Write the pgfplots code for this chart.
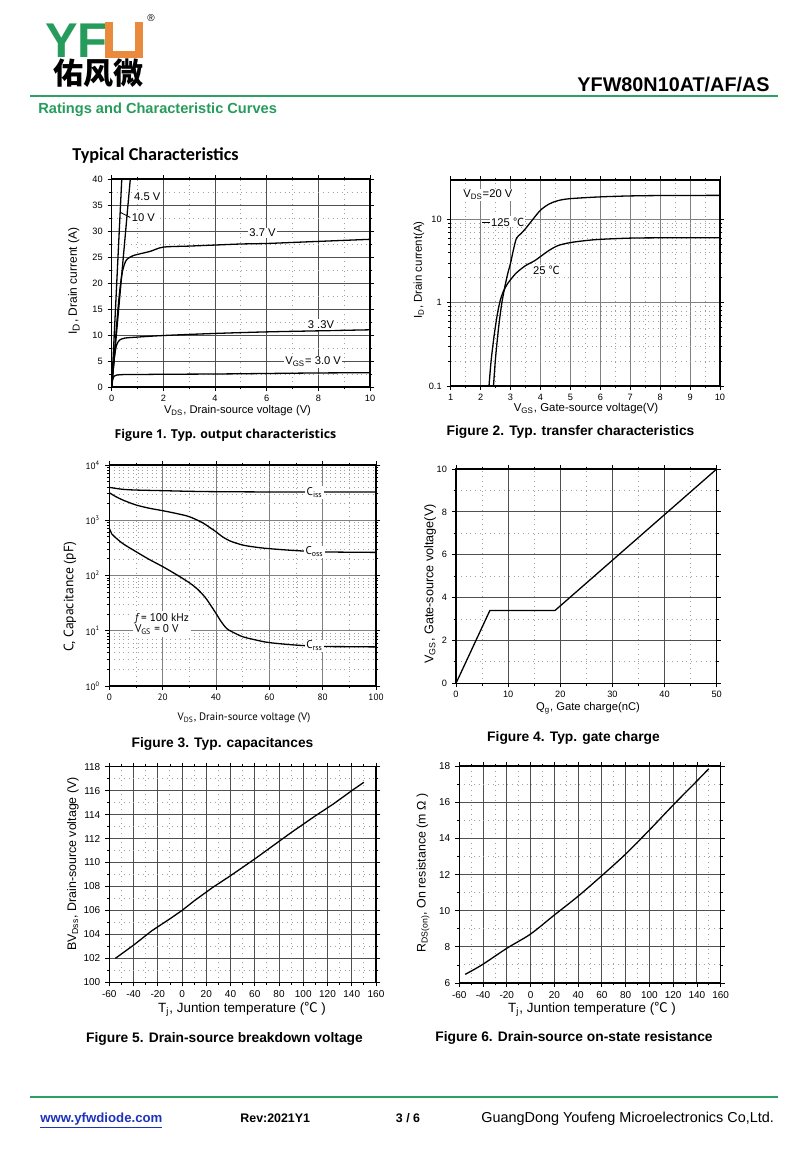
\documentclass[border=0pt]{standalone}
\usepackage{fontspec}
\setmainfont{Liberation Sans}
\newfontfamily\cjk{Noto Sans CJK SC}
\newfontfamily\carlito{Carlito}
\newfontfamily\opensans{Open Sans}
\newfontfamily\ptsans{PT Sans}
\usepackage{pgfplots}
\pgfplotsset{compat=1.18}

\definecolor{ygreen}{RGB}{38,156,92}
\definecolor{lgreen}{RGB}{46,160,100}
\definecolor{yorange}{RGB}{233,138,60}
\definecolor{ylink}{RGB}{30,50,190}
\definecolor{gdark}{RGB}{80,80,80}
\definecolor{glite}{RGB}{160,160,160}

\newcommand{\fs}[1]{\fontsize{#1}{#1}\selectfont}

\pgfplotsset{
  sheet/.style={
    scale only axis, anchor=south west, grid=both,
    axis line style={black, line width=0.7pt},
    major grid style={gdark, line width=0.5pt},
    minor grid style={glite, dotted, line width=0.45pt},
    tick align=outside, tick style={black, line width=0.4pt},
    major tick length=2pt, minor tick length=1.2pt,
    tick label style={font=\fs{4.6}},
    xticklabel style={yshift=1.5pt},
    yticklabel style={xshift=1pt},
    /pgf/number format/assume math mode=true,
    cycle list={{black, line width=0.65pt}},
    every axis plot/.append style={black, line width=0.65pt, no marks},
  },
}
\tikzset{lbl/.style={font=\fs{5.6}, fill=white, inner sep=0.6pt}}

\begin{document}
\begin{tikzpicture}
\path[use as bounding box, fill=white] (0,0) rectangle (400pt,-580pt);

% ---- Figure 1: output characteristics
\begin{axis}[sheet, at={(55.85pt,-193.5pt)}, width=129.15pt, height=104pt,
  xmin=0, xmax=10, ymin=0, ymax=40,
  xtick={0,2,...,10}, ytick={0,5,...,40}, minor x tick num=1, minor y tick num=1]
\addplot[black] coordinates {(0,0) (0.39,40)};
\addplot[black] coordinates {(0,0) (0.72,40)};
\addplot[black, smooth] coordinates {(0,0) (0.1,6) (0.2,12.5) (0.3,18) (0.4,21.8) (0.5,23.7)
  (0.6,24.6) (0.8,25.2) (1,25.5) (1.5,26.1) (2,26.9) (3,27.1) (4,27.3) (5,27.5)
  (6,27.6) (7,27.8) (8,28) (9,28.2) (10,28.4)};
\addplot[black, smooth] coordinates {(0,0) (0.05,3) (0.1,5.5) (0.15,7.2) (0.2,8.2) (0.3,9.0)
  (0.5,9.4) (1,9.6) (2,9.9) (4,10.3) (6,10.6) (8,10.8) (10,11.0)};
\addplot[black, smooth] coordinates {(0,0) (0.03,1.2) (0.06,1.8) (0.1,2.1) (0.2,2.3) (0.5,2.4)
  (1,2.4) (2,2.45) (4,2.5) (6,2.6) (8,2.7) (10,2.75)};
\node[lbl, anchor=west] at (axis cs:0.81,36.6) {4.5 V};
\draw[line width=0.4pt] (axis cs:0.33,33.6) -- (axis cs:0.72,32.6);
\node[lbl, anchor=west] at (axis cs:0.72,32.5) {10 V};
\node[lbl] at (axis cs:5.84,29.6) {3.7 V};
\node[lbl] at (axis cs:8.1,12) {3 .3V};
\node[lbl] at (axis cs:7.8,4.8) {V\textsubscript{GS}= 3.0 V};
\end{axis}

% ---- Figure 2: transfer characteristics
\begin{axis}[sheet, ymode=log, at={(225.35pt,-193pt)}, width=134.65pt, height=103pt,
  xmin=1, xmax=10, ymin=0.1, ymax=30,
  xtick={1,...,10}, minor x tick num=1,
  ytick={0.1,1,10}, yticklabels={0.1,1,10},
  major grid style={gray, line width=0.45pt},
  minor grid style={glite, line width=0.35pt, dotted}]
\addplot[black, smooth, tension=0.5] coordinates {(2.28,0.1) (2.35,0.2) (2.45,0.4) (2.55,0.7)
  (2.65,1.05) (2.75,1.35) (2.9,1.7) (3.0,1.9) (3.2,2.3) (3.5,2.8) (3.8,3.2) (4.0,3.6)
  (4.3,4.3) (4.6,4.9) (5,5.3) (5.5,5.6) (6,5.8) (7,6.0) (8,6.05) (10,6.05)};
\addplot[black, smooth, tension=0.5] coordinates {(2.43,0.1) (2.5,0.22) (2.6,0.5) (2.7,0.95)
  (2.8,1.5) (2.9,2.2) (3.0,3.0) (3.1,4.4) (3.2,6.0) (3.35,6.8) (3.5,7.8) (3.7,9.6)
  (4.0,13.0) (4.3,15.5) (4.6,17) (5,17.9) (6,18.8) (7,19.3) (8,19.5) (10,19.6)};
\node[lbl, anchor=west] at (axis cs:1.37,19.8) {V\textsubscript{DS}=20 V};
\draw[line width=0.4pt] (axis cs:2.05,9.4) -- (axis cs:2.3,9.4);
\node[lbl, anchor=west] at (axis cs:2.3,9.4) {125 {\cjk ℃}};
\node[lbl] at (axis cs:4.2,2.47) {25 {\cjk ℃}};
\end{axis}

% ---- Figure 3: capacitances
\begin{axis}[sheet, ymode=log, at={(54.65pt,-343pt)}, width=133.35pt, height=110.5pt,
  xmin=0, xmax=100, ymin=1, ymax=10000,
  xtick={0,20,...,100}, minor x tick num=1,
  ytick={1,10,100,1000,10000},
  yticklabels={10\textsuperscript{0},10\textsuperscript{1},10\textsuperscript{2},10\textsuperscript{3},10\textsuperscript{4}},
  tick label style={font=\ptsans\fs{4.6}},
  major grid style={gray, line width=0.45pt},
  minor grid style={glite, line width=0.35pt, dotted}]
\addplot[black, smooth] coordinates {(0,3950) (2,3800) (5,3630) (10,3520) (20,3430) (30,3340)
  (40,3290) (60,3250) (80,3240) (100,3240)};
\addplot[black, smooth] coordinates {(0,3150) (2,2750) (5,2330) (10,1890) (15,1650) (20,1490)
  (25,1330) (30,1160) (35,900) (38,720) (40,620) (42,520) (45,427) (50,356) (55,325)
  (60,306) (70,282) (80,268) (90,264) (100,262)};
\addplot[black, smooth] coordinates {(0,715) (1,560) (2,503) (5,380) (10,270) (15,195) (20,145)
  (25,105) (30,74) (33,57) (36,40) (38,29) (40,20.6) (42,14.5) (44,11) (46,9.6) (50,7.8)
  (55,6.8) (60,6.1) (70,5.5) (80,5.2) (90,5.15) (100,5.1)};
\node[lbl, font=\ptsans\fs{5.6}] at (axis cs:77,3200) {C\textsubscript{iss}};
\node[lbl, font=\ptsans\fs{5.6}] at (axis cs:77,268) {C\textsubscript{oss}};
\node[lbl, font=\ptsans\fs{5.6}] at (axis cs:77,5.3) {C\textsubscript{rss}};
\node[lbl, font=\ptsans\fs{5.6}, anchor=west, align=left, inner sep=1.2pt] at (axis cs:8.6,13)
  {\itshape f\upshape{} = 100 kHz\\V\textsubscript{GS} = 0 V};
\end{axis}

% ---- Figure 4: gate charge
\begin{axis}[sheet, at={(228pt,-341.65pt)}, width=130.35pt, height=107.15pt,
  xmin=0, xmax=50, ymin=0, ymax=10,
  xtick={0,10,...,50}, ytick={0,2,...,10}, minor x tick num=1, minor y tick num=1]
\addplot[black] coordinates {(0,0) (6.5,3.4) (19,3.4) (50,10)};
\end{axis}

% ---- Figure 5: breakdown voltage
\begin{axis}[sheet, at={(54.65pt,-491.15pt)}, width=133.35pt, height=107.8pt,
  xmin=-60, xmax=160, ymin=100, ymax=118,
  xtick={-60,-40,...,160}, ytick={100,102,...,118}, minor x tick num=1, minor y tick num=1,
  tick label style={font=\fs{5}}]
\addplot[black] coordinates {(-55,102.0) (-40,103.1) (-25,104.3) (-10,105.3) (0,106.0) (10,106.8)
  (25,107.9) (40,108.9) (50,109.6) (60,110.3) (75,111.4) (90,112.5) (100,113.2)
  (110,113.9) (125,114.9) (140,116.0) (150,116.7)};
\end{axis}

% ---- Figure 6: on-state resistance
\begin{axis}[sheet, at={(229.65pt,-491.5pt)}, width=130.7pt, height=108.5pt,
  xmin=-60, xmax=160, ymin=6, ymax=18,
  xtick={-60,-40,...,160}, ytick={6,8,...,18}, minor x tick num=1, minor y tick num=1,
  tick label style={font=\fs{5}}]
\addplot[black, smooth] coordinates {(-55,6.48) (-41,7.0) (-20,7.92) (0,8.71) (20,9.76) (40,10.8)
  (60,11.94) (80,13.13) (100,14.46) (120,15.84) (138,17.04) (150,17.85)};
\end{axis}

% ---- page furniture, in pixel units
\begin{scope}[x=0.5pt, y=-0.5pt]
  % logo
  \node[anchor=base west, inner sep=0, text=ygreen, font=\bfseries\fs{24.4}] at (45,58) {YF};
  \fill[yorange] (105,22) rectangle (143,58);
  \fill[white] (113,21) rectangle (135,51);
  \node[inner sep=0, font=\fs{5}] at (151,18) {\textregistered};
  \node[anchor=base, inner sep=0, text height=11.5pt, text depth=0.8pt,
    font=\cjk\bfseries\fs{15}] at (98,85) {佑风微};
  \node[anchor=base east, inner sep=0, font=\bfseries\fs{9.9}] at (770,92) {YFW80N10AT/AF/AS};
  \draw[lgreen, line width=1pt] (30,96.5) -- (778,96.5);
  \node[anchor=base west, inner sep=0, text=ygreen, font=\bfseries\fs{7.3}] at (38,114)
    {Ratings and Characteristic Curves};
  \node[anchor=base west, inner sep=0, font=\carlito\bfseries\fs{9.1}] at (72,161)
    {Typical Characteristics};

  % axis titles
  \node[rotate=90, font=\fs{6}] at (74,281) {I\textsubscript{D}, Drain current (A)};
  \node[anchor=base, inner sep=0, font=\fs{5.6}] at (237.5,413) {V\textsubscript{DS}, Drain-source voltage (V)};
  \node[rotate=90, font=\fs{5.7}] at (419,270) {I\textsubscript{D}, Drain current(A)};
  \node[anchor=base, inner sep=0, font=\fs{5.7}] at (586,411) {V\textsubscript{GS}, Gate-source voltage(V)};
  \node[rotate=90, font=\ptsans\fs{6.8}] at (70,597) {C, Capacitance (pF)};
  \node[anchor=base, inner sep=0, font=\ptsans\fs{5.4}] at (244,720) {V\textsubscript{DS}, Drain-source voltage (V)};
  \node[rotate=90, font=\fs{6.3}] at (430,584) {V\textsubscript{GS}, Gate-source voltage(V)};
  \node[anchor=base, inner sep=0, font=\fs{5.6}] at (588,710.5) {Q\textsubscript{g}, Gate charge(nC)};
  \node[rotate=90, font=\fs{6.2}] at (73,864) {BV\textsubscript{Dss}, Drain-source voltage (V)};
  \node[anchor=base, inner sep=0, font=\fs{6.7}] at (242,1012) {T\textsubscript{j}, Juntion temperature ({\cjk ℃} )};
  \node[rotate=90, font=\fs{6.2}] at (423,873) {R\textsubscript{DS(on)}, On resistance (m Ω )};
  \node[anchor=base, inner sep=0, font=\fs{6.7}] at (592,1012) {T\textsubscript{j}, Juntion temperature ({\cjk ℃} )};

  % captions
  \node[anchor=base, inner sep=0, font=\opensans\bfseries\fs{6.15}] at (225.5,438)
    {Figure 1. Typ. output characteristics};
  \node[anchor=base, inner sep=0, font=\bfseries\fs{6.9}] at (570.5,435)
    {Figure 2. Typ. transfer characteristics};
  \node[anchor=base, inner sep=0, font=\bfseries\fs{6.9}] at (222.5,747)
    {Figure 3. Typ. capacitances};
  \node[anchor=base, inner sep=0, font=\bfseries\fs{6.9}] at (573.5,741)
    {Figure 4. Typ. gate charge};
  \node[anchor=base, inner sep=0, font=\bfseries\fs{6.9}] at (224.5,1042)
    {Figure 5. Drain-source breakdown voltage};
  \node[anchor=base, inner sep=0, font=\bfseries\fs{6.9}] at (574,1041)
    {Figure 6. Drain-source on-state resistance};

  % footer
  \draw[lgreen, line width=1pt] (30,1097) -- (778,1097);
  \node[anchor=base west, inner sep=0, text=ylink, font=\bfseries\fs{6.6}] at (40,1122)
    {\underline{www.yfwdiode.com}};
  \node[anchor=base west, inner sep=0, font=\bfseries\fs{6.2}] at (240,1122) {Rev:2021Y1};
  \node[anchor=base, inner sep=0, font=\bfseries\fs{6.2}] at (408,1122) {3 / 6};
  \node[anchor=base west, inner sep=0, font=\fs{7.2}] at (481,1122)
    {GuangDong Youfeng Microelectronics Co,Ltd.};
\end{scope}
\end{tikzpicture}
\end{document}
